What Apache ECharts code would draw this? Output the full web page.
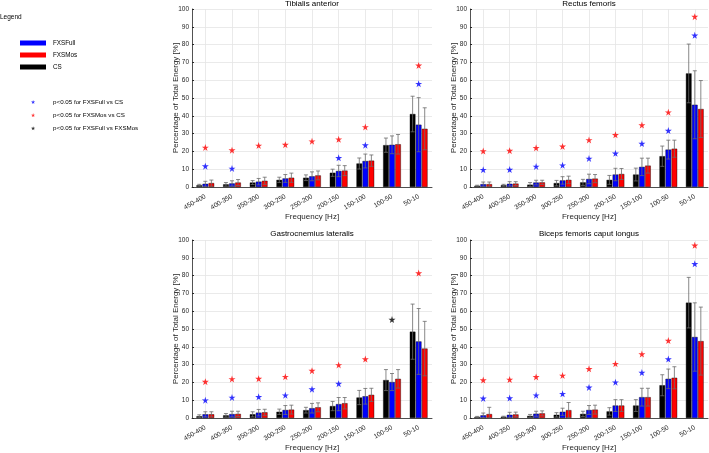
<!DOCTYPE html>
<html><head><meta charset="utf-8">
<script src="https://cdn.jsdelivr.net/npm/echarts@6/dist/echarts.min.js"></script>
<style>html,body{margin:0;padding:0;background:#fff}#c{width:709px;height:453px}</style>
</head><body><div id="c"></div>
<script>
const categories = ['450-400','400-350','350-300','300-250','250-200','200-150','150-100','100-50','50-10'];
const yTicks = [0,10,20,30,40,50,60,70,80,90,100];
const titles = ['Tibialis anterior','Rectus femoris','Gastrocnemius lateralis','Biceps femoris caput longus'];

// Tibialis anterior
const ta_cs = [1.0,1.5,2.5,4.0,5.2,8.0,13.2,23.5,41.0];
const ta_csSd = [0.5,1.0,1.1,1.5,1.6,2.0,3.1,4.0,10.0];
const ta_full = [1.8,2.0,3.0,4.8,6.0,9.0,14.6,23.7,35.0];
const ta_fullSd = [1.4,1.5,1.8,2.2,2.5,3.2,3.9,5.0,15.2];
const ta_mos = [2.2,2.5,3.5,5.2,6.5,9.2,14.8,24.0,32.7];
const ta_mosSd = [1.7,1.7,2.0,2.6,2.5,2.8,3.2,5.5,11.8];
const ta_starMos = [22.2,20.7,23.3,23.8,25.7,26.8,33.7,null,68.3];
const ta_starFull = [11.7,10.4,null,null,null,16.4,23.5,null,58.0];
const ta_starFM = [null,null,null,null,null,null,null,null,null];

// Rectus femoris
const rf_cs = [0.7,1.0,1.3,2.2,2.6,4.0,7.0,17.3,63.8];
const rf_csSd = [0.3,0.5,1.2,1.5,1.7,2.5,3.6,5.7,16.5];
const rf_full = [1.6,1.8,2.5,3.7,4.5,7.0,11.3,21.0,46.2];
const rf_fullSd = [1.2,1.2,1.3,2.1,2.7,3.5,4.9,5.3,19.1];
const rf_mos = [1.6,1.9,2.6,4.0,4.7,7.3,12.0,21.5,43.8];
const rf_mosSd = [1.2,1.1,1.2,2.1,2.3,3.1,4.2,4.8,16.0];
const rf_starMos = [20.2,20.4,22.0,22.8,26.4,29.3,34.8,42.0,95.7];
const rf_starFull = [9.7,9.8,11.5,12.2,16.0,18.9,24.4,31.7,85.2];
const rf_starFM = [null,null,null,null,null,null,null,null,null];

// Gastrocnemius lateralis
const gl_cs = [1.0,1.5,2.1,3.5,4.4,6.7,11.5,21.3,48.5];
const gl_csSd = [0.8,1.0,1.4,1.5,1.6,2.6,4.0,5.9,15.5];
const gl_full = [2.1,2.2,3.0,4.5,5.5,7.8,12.2,20.2,43.0];
const gl_fullSd = [1.4,1.6,1.8,2.5,2.7,3.7,4.4,4.8,18.5];
const gl_mos = [2.1,2.3,3.2,4.7,6.0,8.3,13.0,22.0,39.0];
const gl_mosSd = [1.4,1.5,1.7,2.5,2.5,3.2,3.7,5.2,15.3];
const gl_starMos = [20.4,21.9,22.1,23.2,26.6,29.8,33.1,null,81.4];
const gl_starFull = [10.0,11.5,11.9,12.8,16.2,19.3,null,null,null];
const gl_starFM = [null,null,null,null,null,null,null,55.3,null];

// Biceps femoris caput longus
const bf_cs = [0.6,0.7,1.2,1.8,2.3,3.7,7.0,18.4,64.8];
const bf_csSd = [0.3,0.3,0.8,1.2,1.5,2.1,3.3,5.9,14.2];
const bf_full = [1.5,1.8,2.4,3.5,4.5,7.0,11.7,22.0,45.5];
const bf_fullSd = [1.3,1.4,1.4,2.0,2.5,3.3,5.0,5.5,19.2];
const bf_mos = [2.2,2.0,2.6,4.4,4.7,7.0,11.7,22.6,43.2];
const bf_mosSd = [3.8,1.3,1.4,4.3,2.5,3.3,5.0,6.2,19.1];
const bf_starMos = [21.3,21.6,23.1,23.9,27.6,30.5,35.9,43.5,97.0];
const bf_starFull = [11.0,11.2,12.8,13.6,17.2,20.1,25.5,33.1,86.6];
const bf_starFM = [null,null,null,null,null,null,null,null,null];

const panels = [
  {cs:ta_cs,csSd:ta_csSd,full:ta_full,fullSd:ta_fullSd,mos:ta_mos,mosSd:ta_mosSd,sM:ta_starMos,sF:ta_starFull,sFM:ta_starFM},
  {cs:rf_cs,csSd:rf_csSd,full:rf_full,fullSd:rf_fullSd,mos:rf_mos,mosSd:rf_mosSd,sM:rf_starMos,sF:rf_starFull,sFM:rf_starFM},
  {cs:gl_cs,csSd:gl_csSd,full:gl_full,fullSd:gl_fullSd,mos:gl_mos,mosSd:gl_mosSd,sM:gl_starMos,sF:gl_starFull,sFM:gl_starFM},
  {cs:bf_cs,csSd:bf_csSd,full:bf_full,fullSd:bf_fullSd,mos:bf_mos,mosSd:bf_mosSd,sM:bf_starMos,sF:bf_starFull,sFM:bf_starFM}
];

const FONT = 'Liberation Sans';
const TXT = '#262626';
const BLUE = '#0000ff', RED = '#ff0000', BLACK = '#000000';
const BAR_W = 5.6, BAR_STEP = 6.05, CAP = 2;
const ERR = '#6b6b6b';
const STAR = 'path://M0,-1 L0.223,-0.307 L0.951,-0.309 L0.361,0.117 L0.588,0.809 L0,0.38 L-0.588,0.809 L-0.361,0.117 L-0.951,-0.309 L-0.223,-0.307 Z';
const NAME_FULL = 'p<0.05 for FXSFull vs CS';
const NAME_MOS = 'p<0.05 for FXSMos vs CS';
const NAME_FM = 'p<0.05 for FXSFull vs FXSMos';

const gridPos = [
  {left:192, top:9, width:240, height:178},
  {left:470, top:9, width:238, height:178},
  {left:192, top:240, width:240, height:178},
  {left:470, top:240, width:238, height:178}
];

function errRender(k){
  return function(params, api){
    const xi = api.value(0), lo = api.value(1), hi = api.value(2);
    const pLo = api.coord([xi, lo]), pHi = api.coord([xi, hi]);
    const x = pLo[0] + k*BAR_STEP;
    const st = {stroke:ERR, lineWidth:0.8};
    return {type:'group', children:[
      {type:'line', shape:{x1:x,y1:pLo[1],x2:x,y2:pHi[1]}, style:st},
      {type:'line', shape:{x1:x-CAP,y1:pHi[1],x2:x+CAP,y2:pHi[1]}, style:st},
      {type:'line', shape:{x1:x-CAP,y1:pLo[1],x2:x+CAP,y2:pLo[1]}, style:st}
    ]};
  };
}
function errData(m, sd){ return m.map((v,i)=>[i, Math.max(0, v-sd[i]), v+sd[i]]); }

const grid = [], xAxis = [], yAxis = [], series = [], title = [];
gridPos.forEach((g,i)=>{
  grid.push(g);
  title.push({text:titles[i], left:g.left+g.width/2, top:i<2?0:229.5, textAlign:'center', padding:0,
    textStyle:{fontFamily:FONT, fontSize:8, fontWeight:'normal', color:'#000'}});
  xAxis.push({type:'category', gridIndex:i, data:categories, name:'Frequency [Hz]', nameLocation:'middle', nameGap:26,
    nameMoveOverlap:false,
    nameTextStyle:{fontFamily:FONT, fontSize:8, color:TXT},
    axisLine:{lineStyle:{color:TXT, width:0.8}},
    axisTick:{inside:true, length:2, alignWithLabel:true, lineStyle:{color:TXT}},
    axisLabel:{rotate:30, interval:0, fontFamily:FONT, fontSize:6.6, color:TXT, margin:9},
    splitLine:{show:true, alignWithLabel:true, interval:0, lineStyle:{color:'#e4e4e4', width:0.8}}});
  yAxis.push({type:'value', gridIndex:i, min:0, max:100, interval:10, name:'Percentage of Total Energy [%]',
    nameLocation:'middle', nameGap:12, nameMoveOverlap:false, nameTextStyle:{fontFamily:FONT, fontSize:8, color:TXT},
    axisLine:{show:true, lineStyle:{color:TXT, width:0.8}},
    axisTick:{show:true, inside:true, length:2, lineStyle:{color:TXT}},
    axisLabel:{fontFamily:FONT, fontSize:6.5, color:TXT, margin:3, formatter:(v)=>yTicks.includes(v)?String(v):''},
    splitLine:{show:true, lineStyle:{color:'#e4e4e4', width:0.8}}});
  const p = panels[i];
  const barItem = (c)=>({color:c, borderColor:'#000', borderWidth:0.4});
  series.push({type:'bar', name:'CS', xAxisIndex:i, yAxisIndex:i, data:p.cs, barWidth:BAR_W, barGap:'8%', itemStyle:barItem(BLACK)});
  series.push({type:'bar', name:'FXSFull', xAxisIndex:i, yAxisIndex:i, data:p.full, barWidth:BAR_W, barGap:'8%', itemStyle:barItem(BLUE)});
  series.push({type:'bar', name:'FXSMos', xAxisIndex:i, yAxisIndex:i, data:p.mos, barWidth:BAR_W, barGap:'8%', itemStyle:barItem(RED)});
  [[p.cs,p.csSd,-1],[p.full,p.fullSd,0],[p.mos,p.mosSd,1]].forEach(([m,sd,k])=>{
    series.push({type:'custom', xAxisIndex:i, yAxisIndex:i, renderItem:errRender(k), data:errData(m,sd),
      encode:{x:0, y:[1,2]}, z:5, silent:true});
  });
  series.push({type:'scatter', name:NAME_FULL, xAxisIndex:i, yAxisIndex:i, data:p.sF, symbol:STAR, symbolSize:7, itemStyle:{color:BLUE}, z:6});
  series.push({type:'scatter', name:NAME_MOS, xAxisIndex:i, yAxisIndex:i, data:p.sM, symbol:STAR, symbolSize:7, itemStyle:{color:RED}, z:6});
  series.push({type:'scatter', name:NAME_FM, xAxisIndex:i, yAxisIndex:i, data:p.sFM, symbol:STAR, symbolSize:7, itemStyle:{color:BLACK}, z:6});
});

const chart = echarts.init(document.getElementById('c'), null, {renderer:'canvas'});
chart.setOption({
  animation:false,
  backgroundColor:'#fff',
  title: title.concat([{text:'Legend', left:0, top:14, padding:0, textStyle:{fontFamily:FONT, fontSize:6.5, fontWeight:'normal', color:'#000'}}]),
  grid, xAxis, yAxis, series,
  legend:[
    {data:[{name:'FXSFull',icon:'rect'},{name:'FXSMos',icon:'rect'},{name:'CS',icon:'rect'}], orient:'vertical', left:20, top:40, padding:0,
     itemWidth:26, itemHeight:5, itemGap:6, selectedMode:false, itemStyle:{borderWidth:0},
     textStyle:{fontFamily:FONT, fontSize:6.3, color:'#000', padding:[0,0,0,2]}},
    {data:[NAME_FULL, NAME_MOS, NAME_FM], orient:'vertical', left:31, top:99, padding:0,
     itemWidth:26, itemHeight:4, itemGap:7.1, selectedMode:false,
     textStyle:{fontFamily:FONT, fontSize:6.2, color:'#000', padding:[0,0,0,2]}}
  ]
});
</script></body></html>
